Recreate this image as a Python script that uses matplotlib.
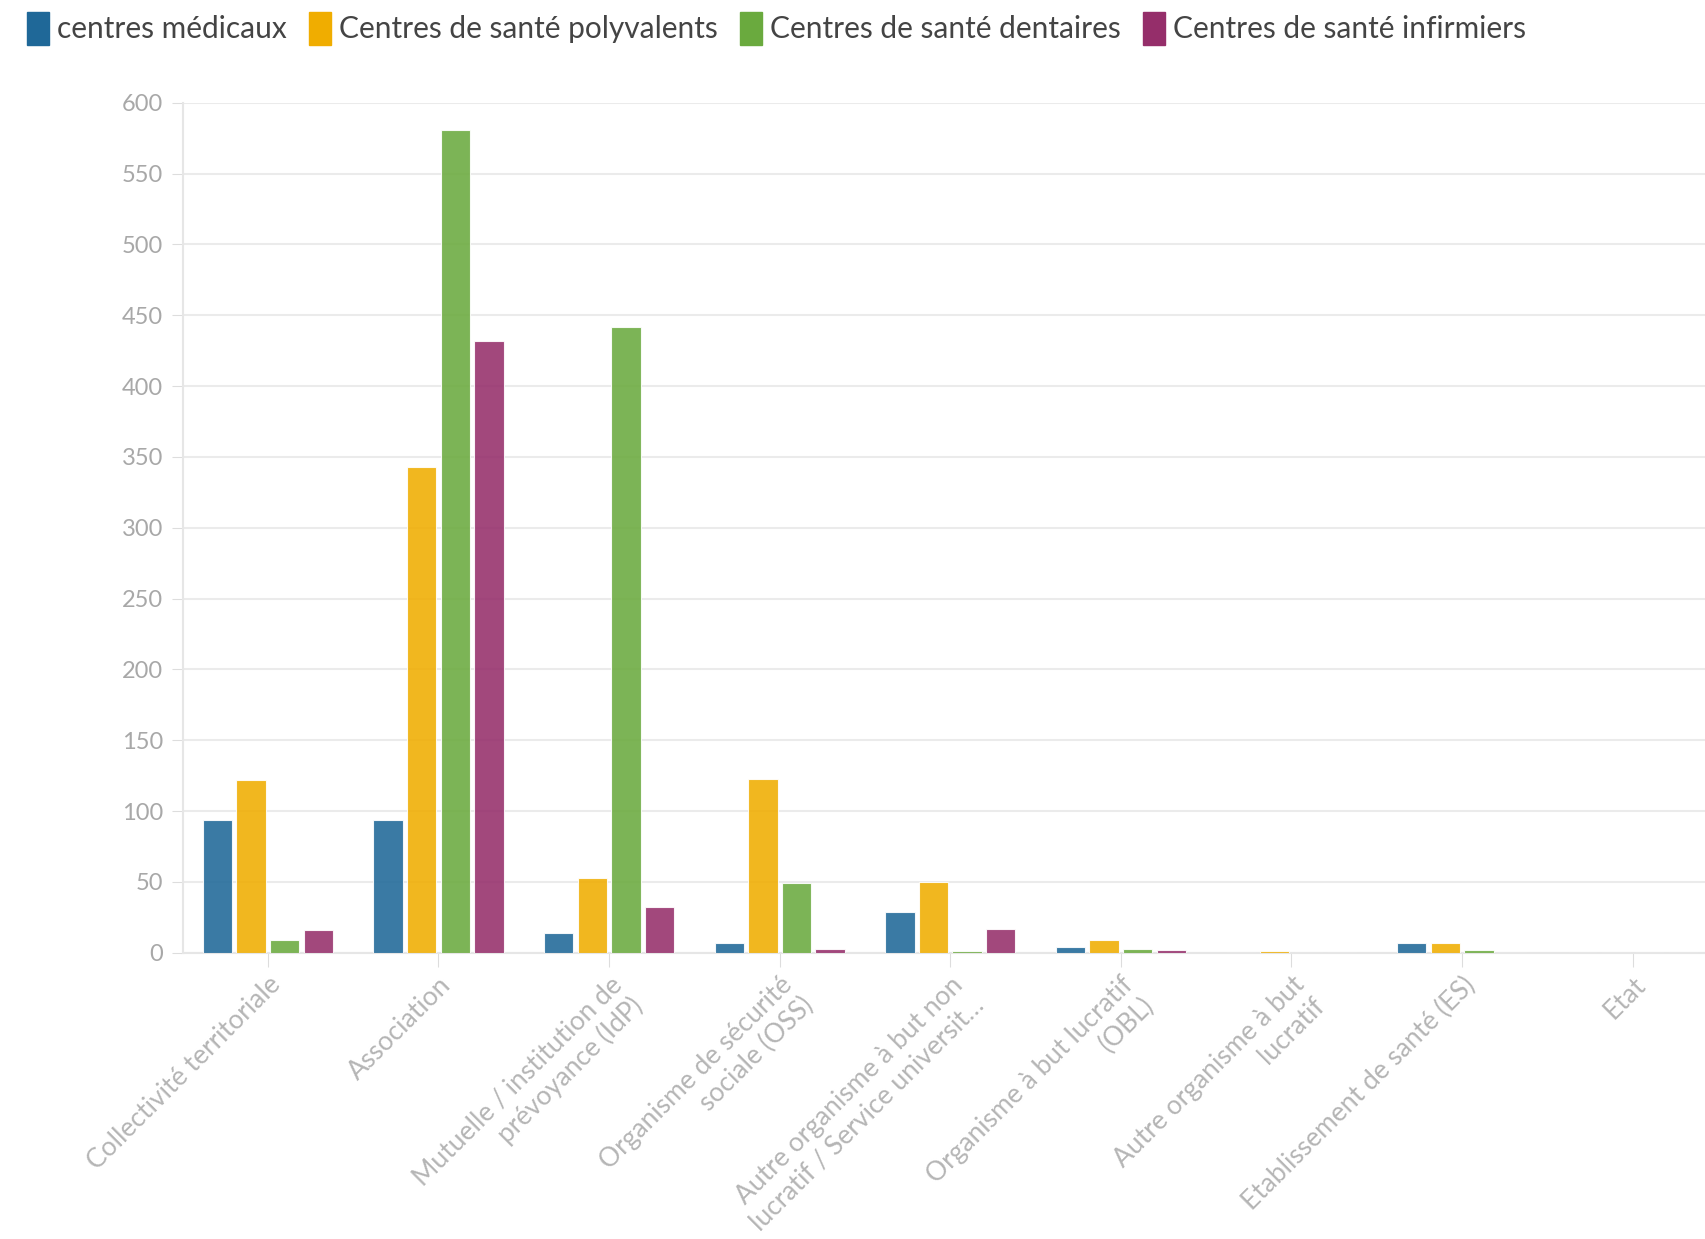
import numpy as np
import matplotlib.pyplot as plt
from matplotlib.patches import Patch

plt.rcParams['font.family'] = ['Lato', 'DejaVu Sans']

#Categories (x axis)
categories = [
    "Collectivité territoriale",
    "Association",
    "Mutuelle / institution de\nprévoyance (IdP)",
    "Organisme de sécurité\nsociale (OSS)",
    "Autre organisme à but non\nlucratif / Service universit…",
    "Organisme à but lucratif\n(OBL)",
    "Autre organisme à but\nlucratif",
    "Etablissement de santé (ES)",
    "Etat",
]

#Series values
centres_medicaux = [94, 94, 14, 7, 29, 4, 0, 7, 0]
centres_polyvalents = [122, 343, 53, 123, 50, 9, 1, 7, 0]
centres_dentaires = [9, 581, 442, 49, 1, 3, 0, 2, 0]
centres_infirmiers = [16, 432, 32, 3, 17, 2, 0, 0, 0]

series_names = ["centres médicaux", "Centres de santé polyvalents",
                "Centres de santé dentaires", "Centres de santé infirmiers"]
series = [centres_medicaux, centres_polyvalents, centres_dentaires, centres_infirmiers]
colors = ["#1f6898", "#f0ad00", "#6aaa3e", "#952e6a"]

y_ticks = [0, 50, 100, 150, 200, 250, 300, 350, 400, 450, 500, 550, 600]

fig = plt.figure(figsize=(17.06, 12.39), dpi=100)
ax = fig.add_axes([0.107, 0.231, 0.893, 0.686])

x = np.arange(len(categories))
width = 0.172
step = 0.197
for i, (vals, col) in enumerate(zip(series, colors)):
    ax.bar(x + (i - 1.5) * step, vals, width=width, color=col, alpha=0.88,
           edgecolor='white', linewidth=0.8, zorder=3)

ax.set_ylim(0, 600)
ax.set_xlim(-0.5, 8.43)
ax.set_yticks(y_ticks)
ax.set_xticks(x)
ax.set_xticklabels(categories, rotation=45, ha='right', rotation_mode='anchor',
                   multialignment='right', fontsize=19, color='#b5b5b5',
                   linespacing=1.2)
ax.tick_params(axis='y', labelsize=17, labelcolor='#a8a8a8', color='#dddddd',
               length=8, pad=6)
ax.tick_params(axis='x', color='#dddddd', length=10, pad=4)

ax.grid(axis='y', color='#ebebeb', linewidth=1.5, zorder=0)
for s in ['top', 'right']:
    ax.spines[s].set_visible(False)
ax.spines['left'].set_color('#e6e6e6')
ax.spines['bottom'].set_color('#e6e6e6')
ax.spines['left'].set_linewidth(1.5)
ax.spines['bottom'].set_linewidth(1.5)

#Legend across the top
handles = [Patch(facecolor=c, edgecolor=c) for c in colors]
leg = fig.legend(handles, series_names, loc='center left', bbox_to_anchor=(0.0, 0.977),
                 ncol=4, frameon=False, fontsize=21.5, handlelength=0.75, handleheight=1.35,
                 handletextpad=0.25, columnspacing=0.75, labelcolor='#444444')

fig.savefig("out.png", dpi=100, facecolor='white')
